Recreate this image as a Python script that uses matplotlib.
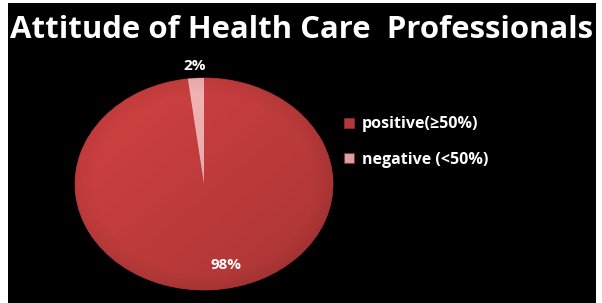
import numpy as np
import matplotlib
matplotlib.use("Agg")
import matplotlib.pyplot as plt
from matplotlib.patches import Rectangle

# data
labels = ["positive(\u226550%)", "negative (<50%)"]
values = [98, 2]
colors = ["#B43838", "#D9A0A0"]
pct_text = ["98%", "2%"]

plt.rcParams['font.family'] = ['Open Sans', 'DejaVu Sans']

fig = plt.figure(figsize=(6.02, 3.03), dpi=100, facecolor="white")

# black panel behind everything
fig.patches.append(Rectangle((8 / 602, 0), 588 / 602, 300 / 303,
                             transform=fig.transFigure, facecolor="black",
                             edgecolor="none", zorder=-5))

fig.text(302 / 602, 1 - 30 / 303, "Attitude of Health Care  Professionals",
         color="white", fontsize=22.4, fontweight="bold", ha="center", va="center")

# pie axes (stretched -> elliptical look)
ax = fig.add_axes([75 / 602, 13 / 303, 258 / 602, 212 / 303])
ax.set_zorder(2)
ax.patch.set_visible(False)
ax.set_axis_off()
wedges, _ = ax.pie(values, colors=colors, startangle=90, counterclock=False,
                   radius=1.0, wedgeprops=dict(edgecolor="#8E2A2A", linewidth=0.6))
ax.set_aspect("auto")

# soft shading on each wedge
gx, gy = np.meshgrid(np.linspace(-1, 1, 200), np.linspace(-1, 1, 200))
for w, c in zip(wedges, colors):
    base = np.array(matplotlib.colors.to_rgb(c))
    shade = 1.06 - 0.12 * (gx - gy) / 2 - 0.08 * np.clip(np.hypot(gx, gy) - 0.85, 0, None) * 6
    img = np.clip(base[None, None, :] * shade[..., None], 0, 1)
    im = ax.imshow(img, extent=(-1, 1, -1, 1), origin="lower", zorder=1.5,
                   aspect="auto", interpolation="bilinear")
    im.set_clip_path(w)
ax.set_xlim(-1, 1)
ax.set_ylim(-1, 1)

# percentage labels
total = sum(values)
start = 90.0
dists = [0.77, 1.12]
for v, t, d in zip(values, pct_text, dists):
    mid = np.deg2rad(start - v / total * 360 / 2)
    start -= v / total * 360
    ax.text(d * np.cos(mid) + (0.12 if v > 50 else 0), d * np.sin(mid), t,
            color="white", fontsize=11, fontweight="bold",
            ha="center", va="center", zorder=3, clip_on=False)

fig.legend(wedges, labels, loc="center left",
           bbox_to_anchor=(330 / 602, 1 - 142 / 303), frameon=False,
           labelcolor="white", handlelength=0.6, handleheight=0.6,
           handletextpad=0.5, labelspacing=1.2, prop=dict(weight="bold", size=11.5))

fig.savefig("out.png", dpi=100, facecolor="white")
